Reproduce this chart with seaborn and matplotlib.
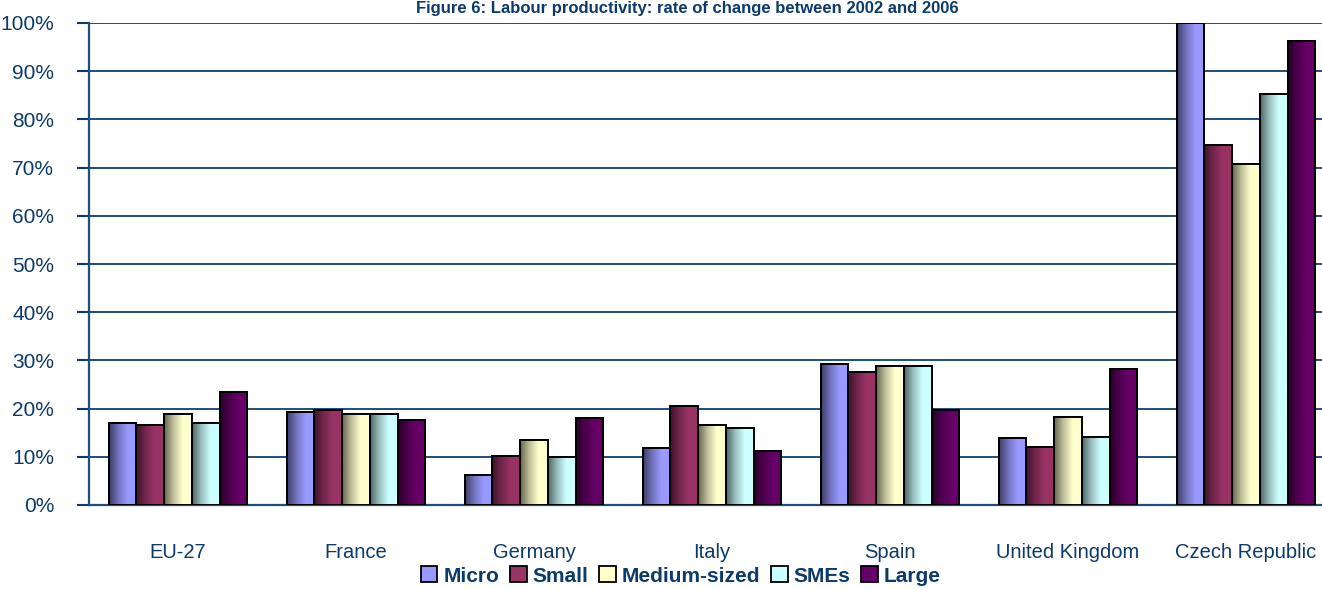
import numpy as np
import pandas as pd
import matplotlib
matplotlib.use("Agg")
import matplotlib.pyplot as plt
import seaborn as sns
from matplotlib.colors import LinearSegmentedColormap, to_rgb
from matplotlib.patches import Rectangle

# === DATA ===
countries = ["EU-27", "France", "Germany", "Italy", "Spain",
             "United Kingdom", "Czech Republic"]
sizes = ["Micro", "Small", "Medium-sized", "SMEs", "Large"]
micro = [17.0, 19.3, 6.3, 11.8, 29.2, 13.9, 100.0]
small = [16.7, 19.7, 10.1, 20.5, 27.6, 12.1, 74.6]
medium = [18.8, 18.8, 13.4, 16.7, 28.8, 18.3, 70.8]
smes = [17.0, 18.8, 10.0, 15.9, 28.8, 14.2, 85.3]
large = [23.4, 17.6, 18.0, 11.3, 19.7, 28.3, 96.2]

colors = ["#9999FF", "#993366", "#FFFFCC", "#CCFFFF", "#660066"]
navy = "#0B3A6B"

df = pd.DataFrame({
    "country": countries * 5,
    "size": [s for s in sizes for _ in countries],
    "value": micro + small + medium + smes + large,
})

sns.set_style("white")
plt.rcParams["font.family"] = ["Liberation Sans", "DejaVu Sans"]

fig = plt.figure(figsize=(13.22, 5.89), dpi=100)
ax = fig.add_axes([89 / 1322, 1 - 505 / 589, 1246 / 1322, 482 / 589])

sns.barplot(data=df, x="country", y="value", hue="size", order=countries,
            hue_order=sizes, palette=colors, width=0.78, gap=0,
            edgecolor="black", linewidth=1.4, saturation=1, ax=ax, legend=False,
            zorder=3)


def gradient_cmap(name, color):
    base = np.array(to_rgb(color))
    return LinearSegmentedColormap.from_list(
        name, [base * 0.4, base * 0.75, base, base])


# gradient fill: dark on the left, light on the right
for i, s in enumerate(sizes):
    cmap = gradient_cmap(s, colors[i])
    for p in ax.containers[i]:
        x, w, h = p.get_x(), p.get_width(), p.get_height()
        grad = np.linspace(0, 1, 64).reshape(1, -1)
        im = ax.imshow(grad, cmap=cmap, extent=[x, x + w, 0, h],
                       aspect="auto", zorder=3.5, interpolation="bilinear")
        im.set_clip_path(p)
        edge = Rectangle((x, 0), w, h, fill=False, edgecolor="black",
                         linewidth=1.4, zorder=4)
        ax.add_patch(edge)

ax.set_xlim(-0.5, len(countries) - 0.5)
ax.set_ylim(0, 100)
ax.set_yticks(range(0, 101, 10))
ax.set_yticklabels([f"{v}%" for v in range(0, 101, 10)])
ax.yaxis.grid(True, color="#1F4E79", linewidth=1.4, zorder=0)
ax.set_axisbelow(True)
ax.set_xlabel("")
ax.set_ylabel("")

# ticks between the groups
ax.set_xticks(np.arange(-0.5, len(countries) - 0.4, 1), minor=True)
ax.tick_params(axis="x", which="major", length=0, pad=27, labelsize=14.5,
               labelcolor=navy)
ax.tick_params(axis="x", which="minor", length=7, width=1.5, color=navy,
               direction="out")
ax.tick_params(axis="y", length=9, width=1.5, color=navy, labelsize=15,
               labelcolor=navy, left=True, pad=16)

for side in ["top", "right"]:
    ax.spines[side].set_visible(False)
for side in ["left", "bottom"]:
    ax.spines[side].set_color("#1F4E79")
    ax.spines[side].set_linewidth(1.6)

# legend
handles = []
for i, s in enumerate(sizes):
    handles.append(Rectangle((0, 0), 1, 1, facecolor=colors[i],
                             edgecolor="black", linewidth=1.3))
fig.legend(handles, sizes, loc="center", bbox_to_anchor=(0.515, 0.022),
           ncol=5, frameon=False, handlelength=0.8, handleheight=0.8,
           handletextpad=0.3, columnspacing=0.5,
           prop={"weight": "bold", "size": 15}, labelcolor=navy)

fig.text(0.52, 0.999, "Figure 6: Labour productivity: rate of change between 2002 and 2006",
         ha="center", va="top", fontsize=12, fontweight="bold", color=navy)

fig.savefig("out.png", dpi=100)
